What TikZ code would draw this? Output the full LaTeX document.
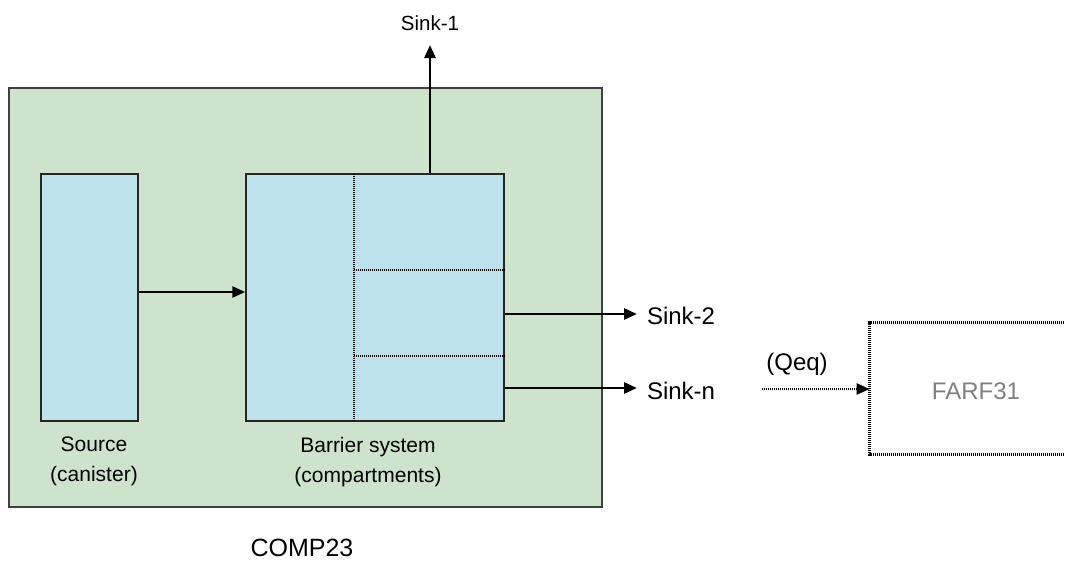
\documentclass[tikz,border=0pt]{standalone}
\usepackage{fontspec}
\setmainfont{Liberation Sans}
\usetikzlibrary{arrows.meta}

\definecolor{compgreen}{RGB}{205,227,204}
\definecolor{cellblue}{RGB}{190,226,236}
\definecolor{farfgray}{RGB}{128,128,128}

\tikzset{
    compbox/.style={draw=black!75, fill=compgreen, line width=1.5pt, minimum width=593pt, minimum height=419pt},
    cellbox/.style={draw=black!85, fill=cellblue, line width=1.5pt, minimum height=247pt},
    dotline/.style={line width=2.4pt, dash pattern=on 1pt off 1pt},
    sinklabel/.style={font=\fontsize{24}{28}\selectfont, inner sep=1pt, outer sep=9pt},
    celllabel/.style={font=\fontsize{21}{30}\selectfont, align=center}
}

\begin{document}
\begin{tikzpicture}[x=1pt, y=-1pt, >={Triangle[length=13pt, width=11pt]}, line width=2.7pt]
    \useasboundingbox (0,0) rectangle (1065,562);

    \node[compbox] (comp) at (305.5,297.5) {};
    \node[cellbox, minimum width=97pt] (source) at (89.5,297.5) {};
    \node[cellbox, minimum width=258pt] (barrier) at (375,297.5) {};
    \draw[dotline] (354,174) -- (354,421);
    \draw[dotline] (354,270) -- (barrier.east |- 0,270);
    \draw[dotline] (354,356) -- (barrier.east |- 0,356);

    \node[celllabel] (srclabel) at (94,461) {Source\\(canister)};
    \node[celllabel] (barlabel) at (368,462) {Barrier system\\(compartments)};
    \node[font=\fontsize{25}{30}\selectfont] (complabel) at (302,548) {COMP23};

    \draw[->] (source.east |- 0,292) -- (barrier.west |- 0,292);

    \node[font=\fontsize{20.5}{24}\selectfont] (sink1) at (430,23) {Sink-1};
    \coordinate (sink1end) at (430,45);
    \draw[->] (barrier.north -| sink1end) -- (sink1end);

    \node[sinklabel, anchor=west] (sink2) at (637,316) {Sink-2};
    \draw[->] (barrier.east |- 0,314) -- (sink2.west |- 0,314);
    \node[sinklabel, anchor=west] (sinkn) at (637,391) {Sink-n};
    \draw[->] (barrier.east |- 0,388) -- (sinkn.west |- 0,388);

    \node[minimum width=194pt, minimum height=129pt] (farf) at (968,388.5) {};
    \node[text=farfgray, font=\fontsize{24}{28}\selectfont] (farflabel) at (976,391) {FARF31};
    \draw[dotline] (farf.north east) -- (farf.north west) -- (farf.south west) -- (farf.south east);
    \coordinate (qeqstart) at (762,389);
    \draw[dotline, ->] (qeqstart) -- (farf.west |- qeqstart);
    \node[font=\fontsize{24}{28}\selectfont] (qeq) at (797,364) {(Qeq)};
\end{tikzpicture}
\end{document}
